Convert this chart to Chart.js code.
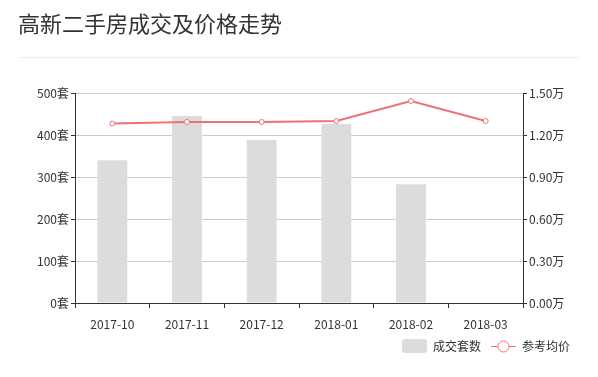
<!DOCTYPE html>
<html>
<head>
<meta charset="utf-8">
<script src="https://cdn.jsdelivr.net/npm/chart.js@4/dist/chart.umd.min.js"></script>
<style>
  body { margin: 0; background: #fff; }
  #wrap { position: relative; width: 598px; height: 377px; }
  #title {
    position: absolute; left: 18px; top: 7px;
    font: 22px/30px "Noto Sans CJK SC", "Microsoft YaHei", sans-serif;
    color: #333;
  }
  #sep { position: absolute; left: 19px; top: 57px; width: 560px; height: 1px; background: #eee; }
  canvas { position: absolute; left: 0; top: 0; }
</style>
</head>
<body>
<div id="wrap">
  <canvas id="chart" width="598" height="377"></canvas>
  <div id="title">高新二手房成交及价格走势</div>
  <div id="sep"></div>
</div>
<script>
const MONTHS = ['2017-10', '2017-11', '2017-12', '2018-01', '2018-02', '2018-03'];
const DEALS = [340, 445, 388, 426, 283, 0];              // 成交套数
const PRICES = [1.282, 1.293, 1.293, 1.30, 1.443, 1.30]; // 参考均价 (万)

const FONT = '"Noto Sans CJK SC", "Microsoft YaHei", sans-serif';
const BAR_COLOR = '#dcdcdc';
const LINE_COLOR = '#ef7272';
const AXIS_COLOR = '#333';

// legend icons
function makeIcon(draw) {
    const c = document.createElement('canvas');
    c.width = 25;
    c.height = 14;
    draw(c.getContext('2d'));
    return c;
}
const barIcon = makeIcon(ctx => {
    ctx.fillStyle = BAR_COLOR;
    ctx.beginPath();
    ctx.roundRect(0, 0, 25, 14, 3);
    ctx.fill();
});
const lineIcon = makeIcon(ctx => {
    ctx.strokeStyle = LINE_COLOR;
    ctx.lineWidth = 1;
    ctx.beginPath();
    ctx.moveTo(0, 7.5);
    ctx.lineTo(25, 7.5);
    ctx.stroke();
    ctx.beginPath();
    ctx.arc(12.5, 7.5, 5.5, 0, Math.PI * 2);
    ctx.fillStyle = '#fff';
    ctx.fill();
    ctx.stroke();
});

Chart.defaults.font.family = FONT;
Chart.defaults.font.size = 12;
Chart.defaults.color = '#333';

new Chart(document.getElementById('chart'), {
    data: {
        labels: MONTHS,
        datasets: [
            {
                type: 'line',
                label: '参考均价',
                data: PRICES,
                yAxisID: 'y1',
                borderColor: LINE_COLOR,
                borderWidth: 2,
                backgroundColor: '#fff',
                pointBorderColor: LINE_COLOR,
                pointBackgroundColor: '#fff',
                pointRadius: 2.5,
                pointBorderWidth: 1,
                tension: 0,
                order: 0,
            },
            {
                type: 'bar',
                label: '成交套数',
                data: DEALS,
                yAxisID: 'y',
                backgroundColor: BAR_COLOR,
                barPercentage: 0.4,
                categoryPercentage: 1,
                order: 1,
            },
        ]
    },
    options: {
        responsive: false,
        animation: false,
        devicePixelRatio: 1,
        layout: {
            padding: {left: 18, right: 18, top: 93, bottom: 15},
        },
        scales: {
            x: {
                offset: true,
                grid: {
                    display: true,
                    offset: true,
                    drawOnChartArea: false,
                    tickLength: 5,
                    tickColor: AXIS_COLOR,
                },
                border: {color: AXIS_COLOR},
                ticks: {padding: 9, maxRotation: 0},
                afterFit: s => { s.height = 27; },
            },
            y: {
                position: 'left',
                min: 0,
                max: 500,
                ticks: {stepSize: 100, padding: 2, callback: v => v + '套'},
                grid: {color: '#ccc', tickLength: 4, tickColor: AXIS_COLOR},
                border: {color: AXIS_COLOR},
                afterFit: s => { s.width = 57; },
            },
            y1: {
                position: 'right',
                min: 0,
                max: 1.5,
                ticks: {stepSize: 0.3, padding: 2, callback: v => v.toFixed(2) + '万'},
                grid: {drawOnChartArea: false, tickLength: 4, tickColor: AXIS_COLOR},
                border: {color: AXIS_COLOR},
                afterFit: s => { s.width = 57; },
            },
        },
        plugins: {
            legend: {
                position: 'bottom',
                align: 'end',
                reverse: true,
                labels: {
                    usePointStyle: true,
                    pointStyleWidth: 25,
                    padding: 10,
                    font: {size: 12},
                    color: '#333',
                    generateLabels: chart => {
                        const items = Chart.defaults.plugins.legend.labels.generateLabels(chart);
                        items.forEach(it => {
                            it.pointStyle = it.text === '成交套数' ? barIcon : lineIcon;
                        });
                        return items;
                    },
                },
            },
            tooltip: {enabled: false},
        },
    },
});
</script>
</body>
</html>
